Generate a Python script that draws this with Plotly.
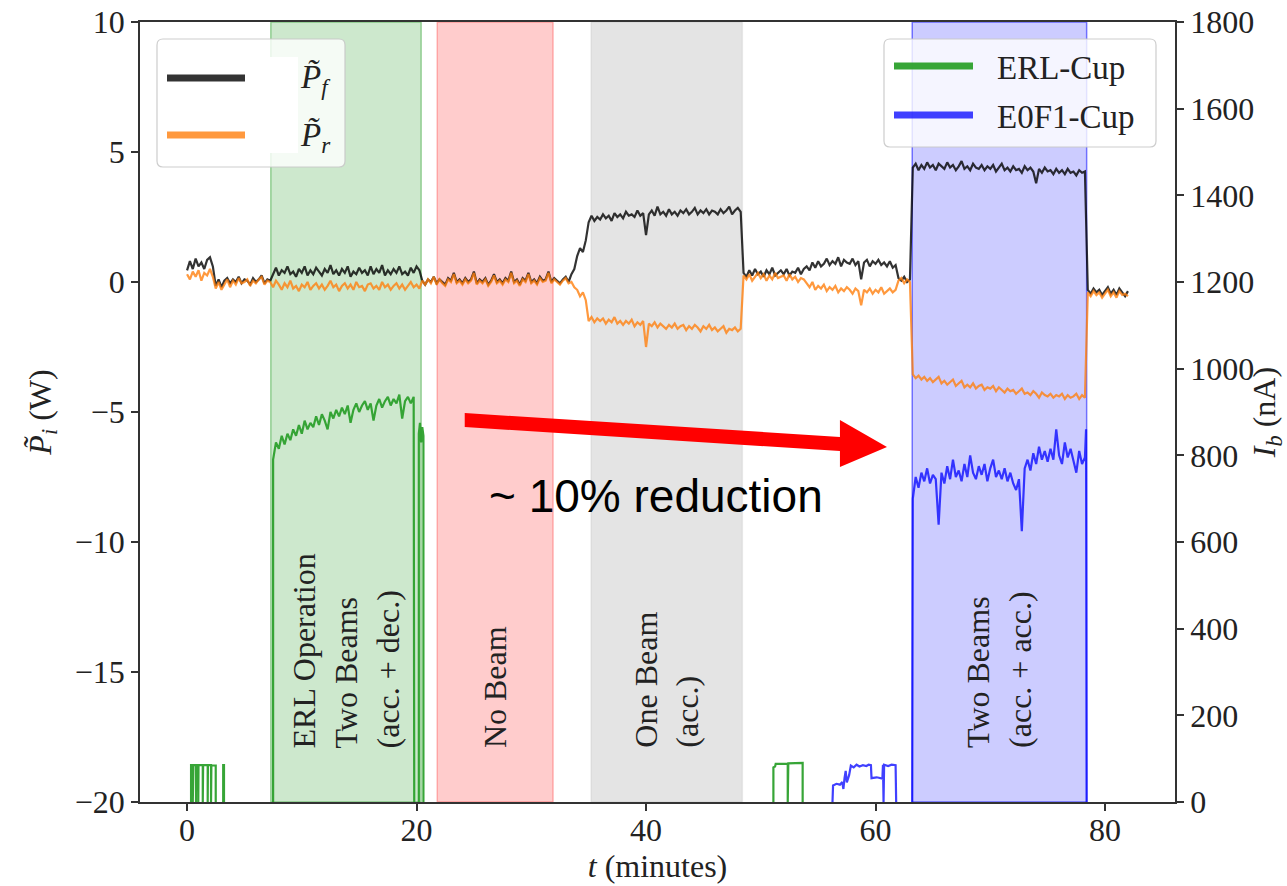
import numpy as np
import plotly.graph_objects as go

# ---------------------------------------------------------------------------
# RF power traces (W), one sample every 0.25 min from t = 0 to 82 min.
# Each row holds 2 minutes (8 samples).
# ---------------------------------------------------------------------------
T_STEP = 0.25

p_forward = [
    0.45, 0.8, 0.5, 0.9, 0.6, 0.75, 0.5, 0.85,          # 0
    0.95, 0.6, -0.15, 0.1, -0.2, 0.05, 0.15, -0.05,     # 2
    0.1, 0.0, 0.2, -0.05, 0.1, 0.05, -0.1, 0.15,        # 4
    0.0, 0.1, 0.25, -0.05, 0.1, 0.05, 0.3, 0.55,        # 6
    0.25, 0.45, 0.35, 0.6, 0.3, 0.4, 0.2, 0.5,          # 8
    0.35, 0.6, 0.25, 0.45, 0.3, 0.55, 0.4, 0.25,        # 10
    0.5, 0.35, 0.65, 0.3, 0.45, 0.25, 0.5, 0.35,        # 12
    0.6, 0.2, 0.4, 0.3, 0.55, 0.35, 0.45, 0.25,         # 14
    0.6, 0.3, 0.5, 0.35, 0.65, 0.25, 0.45, 0.3,         # 16
    0.5, 0.35, 0.6, 0.3, 0.4, 0.25, 0.55, 0.35,         # 18
    0.6, 0.45, 0.05, -0.1, 0.1, 0.0, 0.2, -0.05,        # 20
    0.1, 0.0, -0.1, 0.15, 0.05, 0.35, 0.0, 0.1,         # 22
    -0.05, 0.15, 0.0, 0.1, 0.4, -0.05, 0.1, 0.0,        # 24
    0.15, -0.1, 0.05, 0.3, 0.0, 0.1, -0.05, 0.15,       # 26
    0.05, 0.4, 0.0, 0.1, -0.1, 0.15, 0.05, 0.35,        # 28
    0.0, 0.1, -0.05, 0.2, 0.05, 0.1, 0.4, 0.0,          # 30
    0.15, 0.05, -0.05, 0.1, 0.2, 0.0, 0.3, 0.5,         # 32
    1.0, 1.3, 1.15, 1.6, 2.3, 2.55, 2.35, 2.5,          # 34
    2.4, 2.6, 2.45, 2.55, 2.35, 2.65, 2.5, 2.6,         # 36
    2.45, 2.7, 2.55, 2.6, 2.5, 2.75, 2.55, 2.65,        # 38
    1.8, 2.6, 2.75, 2.55, 2.9, 2.6, 2.7, 2.55,          # 40
    2.8, 2.6, 2.7, 2.55, 2.75, 2.65, 2.8, 2.6,          # 42
    2.7, 2.85, 2.6, 2.75, 2.65, 2.8, 2.6, 2.75,         # 44
    2.7, 2.6, 2.8, 2.65, 2.75, 2.9, 2.6, 2.75,          # 46
    2.85, 2.7, 0.35, 0.2, 0.45, 0.25, 0.5, 0.3,         # 48
    0.4, 0.2, 0.45, 0.3, 0.55, 0.25, 0.35, 0.45,        # 50
    0.3, 0.5, 0.25, 0.4, 0.35, 0.55, 0.3, 0.5,          # 52
    0.6, 0.45, 0.75, 0.55, 0.8, 0.6, 0.7, 0.9,          # 54
    0.65, 0.8, 0.7, 0.95, 0.6, 0.85, 0.75, 0.7,         # 56
    0.9, 0.65, 0.8, 0.1, 0.75, 0.85, 0.6, 0.8,          # 58
    0.7, 0.85, 0.65, 0.75, 0.6, 0.8, 0.55, 0.65,        # 60
    0.15, 0.05, 0.2, 0.0, 0.1, 4.4, 4.55, 4.3,          # 62
    4.5, 4.35, 4.6, 4.4, 4.5, 4.3, 4.55, 4.45,          # 64
    4.35, 4.6, 4.4, 4.5, 4.3, 4.45, 4.65, 4.35,         # 66
    4.45, 4.3, 4.55, 4.4, 4.35, 4.5, 4.3, 4.45,         # 68
    4.35, 4.5, 4.25, 4.4, 4.55, 4.3, 4.4, 4.25,         # 70
    4.45, 4.3, 4.35, 4.2, 4.45, 4.3, 4.4, 4.25,         # 72
    3.8, 4.35, 4.2, 4.4, 4.25, 4.3, 4.15, 4.35,         # 74
    4.2, 4.3, 4.15, 4.35, 4.2, 4.25, 4.1, 4.3,          # 76
    4.2, 4.25, -0.3, -0.45, -0.25, -0.4, -0.3, -0.5,    # 78
    -0.35, -0.2, -0.45, -0.3, -0.5, -0.25, -0.4, -0.55, # 80
    -0.35,                                              # 82
]

p_reflected = [
    0.3, 0.1, 0.4, 0.2, 0.45, 0.05, 0.35, 0.25,               # 0
    0.5, 0.2, -0.25, 0.0, -0.3, -0.1, 0.1, -0.2,              # 2
    0.05, -0.1, 0.15, -0.05, 0.0, 0.1, -0.15, 0.05,           # 4
    -0.05, 0.1, 0.2, -0.1, 0.05, 0.0, -0.2, 0.05,             # 6
    -0.1, -0.3, -0.05, -0.2, 0.05, -0.25, -0.15, -0.35,       # 8
    -0.1, -0.2, 0.0, -0.3, -0.15, -0.05, -0.25, -0.1,         # 10
    -0.3, -0.15, 0.05, -0.2, -0.1, -0.35, -0.15, -0.05,       # 12
    -0.25, -0.1, -0.3, 0.0, -0.2, -0.15, -0.35, -0.1,         # 14
    -0.05, -0.25, -0.15, -0.3, 0.0, -0.2, -0.1, -0.3,         # 16
    -0.15, -0.05, -0.25, -0.1, -0.3, -0.15, 0.0, -0.2,        # 18
    -0.1, -0.25, 0.05, -0.1, 0.1, -0.05, 0.2, -0.1,           # 20
    0.1, -0.05, -0.15, 0.1, 0.0, 0.3, -0.05, 0.05,            # 22
    -0.1, 0.1, -0.05, 0.05, 0.35, -0.1, 0.05, -0.05,          # 24
    0.1, -0.15, 0.0, 0.25, -0.05, 0.05, -0.1, 0.1,            # 26
    0.0, 0.35, -0.05, 0.05, -0.15, 0.1, 0.0, 0.3,             # 28
    -0.05, 0.05, -0.1, 0.15, 0.0, 0.05, 0.35, -0.05,          # 30
    0.1, 0.0, -0.1, 0.05, 0.15, -0.05, 0.0, -0.2,             # 32
    -0.3, -0.55, -0.4, -0.7, -1.5, -1.35, -1.55, -1.4,        # 34
    -1.5, -1.4, -1.6, -1.45, -1.55, -1.35, -1.6, -1.5,        # 36
    -1.65, -1.5, -1.6, -1.45, -1.7, -1.55, -1.65, -1.5,       # 38
    -2.5, -1.6, -1.7, -1.55, -1.75, -1.6, -1.7, -1.8,         # 40
    -1.65, -1.75, -1.6, -1.8, -1.7, -1.65, -1.85, -1.7,       # 42
    -1.8, -1.65, -1.75, -1.9, -1.7, -1.8, -1.65, -1.85,       # 44
    -1.75, -1.9, -1.8, -1.7, -1.95, -1.8, -1.85, -1.75,       # 46
    -1.9, -1.8, 0.25, 0.1, 0.3, 0.05, 0.2, 0.35,              # 48
    0.15, 0.3, 0.05, 0.25, 0.1, 0.35, 0.15, 0.2,              # 50
    0.25, 0.05, 0.3, 0.1, 0.2, 0.0, 0.15, 0.1,                # 52
    -0.05, -0.2, 0.0, -0.3, -0.15, -0.25, -0.1, -0.35,        # 54
    -0.2, -0.3, -0.15, -0.4, -0.25, -0.35, -0.2, -0.3,        # 56
    -0.45, -0.25, -0.35, -0.9, -0.3, -0.4, -0.25, -0.45,      # 58
    -0.3, -0.4, -0.2, -0.45, -0.35, -0.25, -0.4, -0.3,        # 60
    0.05, 0.15, -0.05, 0.1, 0.0, -3.55, -3.7, -3.6,           # 62
    -3.75, -3.65, -3.8, -3.7, -3.85, -3.75, -3.65, -3.9,      # 64
    -3.8, -3.95, -3.85, -3.75, -4.0, -3.9, -3.8, -4.05,       # 66
    -3.95, -4.05, -3.9, -4.1, -4.0, -3.95, -4.15, -4.05,      # 68
    -4.1, -4.0, -4.2, -4.05, -4.15, -4.25, -4.1, -4.2,        # 70
    -4.15, -4.3, -4.2, -4.1, -4.3, -4.25, -4.35, -4.2,        # 72
    -4.3, -4.45, -4.25, -4.35, -4.4, -4.3, -4.45, -4.35,      # 74
    -4.4, -4.3, -4.5, -4.35, -4.45, -4.4, -4.3, -4.5,         # 76
    -4.35, -4.45, -0.4, -0.55, -0.35, -0.5, -0.4, -0.6,       # 78
    -0.45, -0.3, -0.55, -0.4, -0.6, -0.35, -0.5, -0.45,       # 80
    -0.55,                                                    # 82
]

assert len(p_forward) == len(p_reflected)
t_power = np.arange(len(p_forward)) * T_STEP

# ---------------------------------------------------------------------------
# Beam current on the Faraday cups (nA)
# ---------------------------------------------------------------------------
# ERL-Cup: short pulses at start-up
erl_pulse_t = [0.35, 0.35, 0.5, 0.5, 0.55, 0.55, 0.78, 0.78, 0.8, 0.8, 0.98, 0.98,
               1.0, 1.0, 1.37, 1.37, 1.4, 1.4, 1.8, 1.8, 1.82, 1.82, 2.09, 2.09,
               2.12, 2.12, 2.5, 2.5, None, 3.15, 3.15, 3.22, 3.22]
erl_pulse_i = [0, 85, 85, 0, 0, 85, 85, 0, 0, 85, 85, 0,
               0, 85, 85, 0, 0, 85, 85, 0, 0, 85, 85, 0,
               0, 85, 84, 0, None, 0, 85, 85, 0]

# ERL-Cup during ERL operation, every 0.25 min from 7.5 min
ERL_RUN_START = 7.5
erl_run_i = [
    790, 830, 815, 845, 825, 850, 835, 860,
    845, 870, 850, 880, 860, 875, 865, 890,
    870, 895, 880, 860, 900, 885, 905, 890,
    910, 895, 915, 875, 905, 920, 900, 915,
    925, 905, 920, 880, 915, 930, 910, 925,
    935, 915, 930, 920, 940, 885, 925, 935,
    920, 935,
]
ERL_RUN_END = 19.8

erl_tail_t = [20.2, 20.2, 20.3, 20.4, 20.5, 20.6, 20.6]
erl_tail_i = [0, 850, 875, 830, 865, 845, 0]

erl_late_t = [51.1, 51.1, 51.25, 51.3, 52.35, 52.35, 52.4, 52.4, 53.65, 53.65]
erl_late_i = [0, 80, 82, 88, 88, 0, 0, 89, 90, 0]

# E0F1-Cup: one-beam set-up
e0f1_setup_t = [56.25, 56.3, 56.6, 56.9, 57.1, 57.2, 57.3, 57.4, 57.5, 57.7, 57.85,
                58.1, 58.35, 58.6, 58.9, 59.2, 59.4, 59.6, 59.65, 60.1, 60.6,
                60.65, 60.7, 60.75, 61.1, 61.4, 61.75, 61.8]
e0f1_setup_i = [0, 38, 42, 40, 46, 30, 55, 72, 45, 62, 84,
                80, 86, 82, 85, 83, 86, 85, 55, 57, 54,
                86, 0, 86, 83, 86, 85, 0]

# E0F1-Cup during two-beam operation, every 0.25 min from 63.25 min
E0F1_RUN_START = 63.25
e0f1_run_i = [
    700, 750, 725, 760, 740, 770, 735, 755,
    745, 640, 760, 735, 775, 745, 790, 750,
    765, 740, 780, 750, 800, 760, 745, 775,
    755, 780, 740, 770, 790, 750, 765, 745,
    770, 740, 760, 735, 720, 745, 625, 770,
    790, 765, 805, 780, 820, 790, 810, 785,
    815, 790, 860, 800, 780, 830, 795, 815,
    790, 760, 810, 780, 795,
]
E0F1_RUN_END = 78.4
E0F1_RUN_LAST = 860

# Operating phases (min)
phase_start = [7.3, 21.8, 35.2, 63.2]
phase_end = [20.4, 31.9, 48.4, 78.4]
phase_fill = ["rgba(44,160,44,0.24)", "rgba(255,0,0,0.2)",
              "rgba(128,128,128,0.21)", "rgba(0,0,255,0.2)"]
phase_edge = ["rgba(44,160,44,0.45)", "rgba(255,0,0,0.25)",
              "rgba(128,128,128,0.12)", "rgba(0,0,255,0.5)"]
phase_label = ["ERL Operation<br>Two Beams<br>(acc. + dec.)", "No Beam",
               "One Beam<br>(acc.)", "Two Beams<br>(acc. + acc.)"]

# ---------------------------------------------------------------------------
# Assemble the current traces
# ---------------------------------------------------------------------------
erl_run_t = list(ERL_RUN_START + T_STEP * np.arange(len(erl_run_i)))
erl_t = (erl_pulse_t + [None] + [ERL_RUN_START] + erl_run_t + [ERL_RUN_END]
         + [None] + erl_tail_t + [None] + erl_late_t)
erl_i = (erl_pulse_i + [None] + [0] + erl_run_i + [0]
         + [None] + erl_tail_i + [None] + erl_late_i)

e0f1_run_t = list(E0F1_RUN_START + T_STEP * np.arange(len(e0f1_run_i)))
e0f1_t = (e0f1_setup_t + [None] + [phase_start[3]] + e0f1_run_t
          + [E0F1_RUN_END - 0.05, E0F1_RUN_END])
e0f1_i = (e0f1_setup_i + [None] + [0] + e0f1_run_i + [E0F1_RUN_LAST, 0])

SERIF = "Liberation Serif"
INK = "#222222"

fig = go.Figure()
fig.add_trace(go.Scatter(x=t_power, y=p_forward, mode="lines", name="P_f",
                         line=dict(color="rgba(0,0,0,0.8)", width=2.2)))
fig.add_trace(go.Scatter(x=t_power, y=p_reflected, mode="lines", name="P_r",
                         line=dict(color="rgba(255,127,14,0.8)", width=2.2)))
fig.add_trace(go.Scatter(x=erl_t, y=erl_i, mode="lines", name="ERL-Cup", yaxis="y2",
                         connectgaps=False,
                         line=dict(color="rgba(44,160,44,0.95)", width=2.2)))
fig.add_trace(go.Scatter(x=e0f1_t, y=e0f1_i, mode="lines", name="E0F1-Cup", yaxis="y2",
                         connectgaps=False,
                         line=dict(color="rgba(0,0,255,0.75)", width=2.2)))

shapes = []
annotations = []

# shaded operating phases with their labels
for x0, x1, fc, lc, lab in zip(phase_start, phase_end, phase_fill, phase_edge, phase_label):
    shapes.append(dict(type="rect", xref="x", yref="paper", x0=x0, x1=x1, y0=0, y1=1,
                       fillcolor=fc, line=dict(color=lc, width=1.5), layer="below"))
    annotations.append(dict(xref="x", yref="paper", x=(x0 + x1) / 2, y=0.0667,
                            xanchor="center", yanchor="bottom", text=lab,
                            textangle=-90, align="left", showarrow=False,
                            font=dict(family=SERIF, size=32, color=INK)))

# red arrow from the ERL current level to the two-beam current level
arrow_tail_x, arrow_tail_y = 24.2, -5.31
arrow_base_x, arrow_base_y = 56.9, -6.23
arrow_tip_x, arrow_tip_y = 61.0, -6.35
shaft_half = 0.27
head_top, head_bottom = -5.31, -7.12
arrow_path = (f"M {arrow_tail_x},{arrow_tail_y + shaft_half} "
              f"L {arrow_base_x},{arrow_base_y + shaft_half} "
              f"L {arrow_base_x},{head_top} "
              f"L {arrow_tip_x},{arrow_tip_y} "
              f"L {arrow_base_x},{head_bottom} "
              f"L {arrow_base_x},{arrow_base_y - shaft_half} "
              f"L {arrow_tail_x},{arrow_tail_y - shaft_half} Z")
shapes.append(dict(type="path", xref="x", yref="y", path=arrow_path,
                   fillcolor="#ff0000", line=dict(width=0), layer="above"))
annotations.append(dict(xref="x", yref="y", x=40.9, y=-8.22, text="~ 10% reduction",
                        showarrow=False, xanchor="center", yanchor="middle",
                        font=dict(family="Liberation Sans", size=46, color="black")))

# ---------------------------------------------------------------------------
# Legend boxes (figure pixel layout converted to paper coordinates)
# ---------------------------------------------------------------------------
PLOT_L, PLOT_R, PLOT_T, PLOT_B = 140, 1175, 22, 802


def px(x):
    return (x - PLOT_L) / (PLOT_R - PLOT_L)


def py(y):
    return (PLOT_B - y) / (PLOT_B - PLOT_T)


def rounded_box(x0, y0, x1, y1, r=6):
    X0, X1, Y0, Y1 = px(x0), px(x1), py(y0), py(y1)
    rx = r / (PLOT_R - PLOT_L)
    ry = r / (PLOT_B - PLOT_T)
    return (f"M {X0 + rx},{Y0} L {X1 - rx},{Y0} Q {X1},{Y0} {X1},{Y0 - ry} "
            f"L {X1},{Y1 + ry} Q {X1},{Y1} {X1 - rx},{Y1} "
            f"L {X0 + rx},{Y1} Q {X0},{Y1} {X0},{Y1 + ry} "
            f"L {X0},{Y0 - ry} Q {X0},{Y0} {X0 + rx},{Y0} Z")


legend_boxes = [(157, 39, 345, 167), (884, 39, 1156, 147)]
for b in legend_boxes:
    shapes.append(dict(type="path", xref="paper", yref="paper", path=rounded_box(*b),
                       fillcolor="rgba(255,255,255,0.8)",
                       line=dict(color="rgba(200,200,200,0.9)", width=1.2),
                       layer="above"))
# opaque backdrop behind the power-legend samples
shapes.append(dict(type="rect", xref="paper", yref="paper",
                   x0=px(270), x1=px(298), y0=py(153), y1=py(57),
                   fillcolor="white", line=dict(width=0), layer="above"))

legend_entries = [
    (167, 245, 78, "rgba(0,0,0,0.8)", 298, "<i>P̃</i><sub><i>f</i></sub>"),
    (167, 245, 135, "rgba(255,127,14,0.8)", 298, "<i>P̃</i><sub><i>r</i></sub>"),
    (894, 973, 66, "rgba(44,160,44,0.95)", 995, "ERL-Cup"),
    (894, 973, 115, "rgba(0,0,255,0.75)", 995, "E0F1-Cup"),
]
for x0, x1, y, col, xt, lab in legend_entries:
    shapes.append(dict(type="line", xref="paper", yref="paper",
                       x0=px(x0), x1=px(x1), y0=py(y), y1=py(y),
                       line=dict(color=col, width=7), layer="above"))
    annotations.append(dict(xref="paper", yref="paper", x=px(xt), y=py(y + 2),
                            xanchor="left", yanchor="middle", text=lab, showarrow=False,
                            font=dict(family=SERIF, size=33, color=INK)))

axis_common = dict(showline=True, linecolor="#333333", linewidth=1.5,
                   ticks="outside", ticklen=7, tickwidth=1.5, tickcolor="#333333",
                   showgrid=False, zeroline=False, automargin=False,
                   tickfont=dict(family=SERIF, size=32, color=INK))

fig.update_layout(
    width=1287, height=886,
    margin=dict(l=PLOT_L, r=1287 - PLOT_R, t=PLOT_T, b=886 - PLOT_B),
    plot_bgcolor="white", paper_bgcolor="white",
    showlegend=False,
    font=dict(family=SERIF, size=32, color=INK),
    xaxis=dict(range=[-4.1, 86.1], tickvals=[0, 20, 40, 60, 80], mirror=True,
               ticklabelstandoff=-8,
               title=dict(text="<i>t</i> (minutes)", standoff=0,
                          font=dict(family=SERIF, size=32, color=INK)),
               **axis_common),
    yaxis=dict(range=[-20, 10], tickvals=[-20, -15, -10, -5, 0, 5, 10],
               title=dict(text="<i>P̃</i><sub><i>i</i></sub> (W)", standoff=14,
                          font=dict(family=SERIF, size=32, color=INK)),
               **axis_common),
    yaxis2=dict(range=[0, 1800], tickvals=list(range(0, 1801, 200)), overlaying="y",
                side="right",
                title=dict(text="<i>I</i><sub><i>b</i></sub> (nA)", standoff=8,
                           font=dict(family=SERIF, size=32, color=INK)),
                **axis_common),
    shapes=shapes,
    annotations=annotations,
)

fig.write_html("out.html")
